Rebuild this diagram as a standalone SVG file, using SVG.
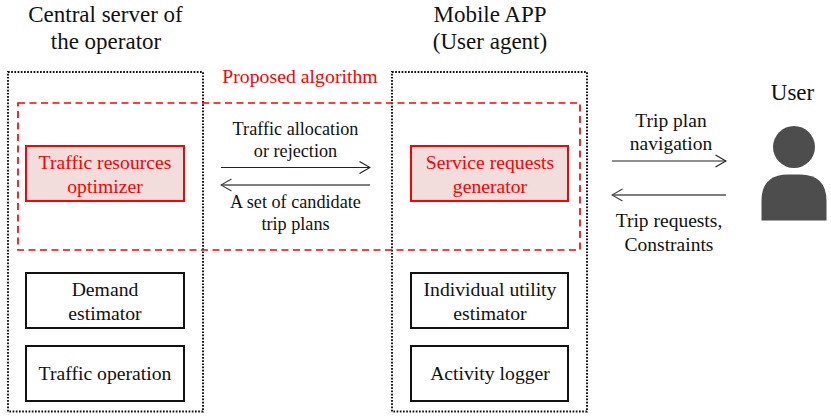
<svg xmlns="http://www.w3.org/2000/svg" width="831" height="417" viewBox="0 0 831 417">
<style>
text{font-family:"Liberation Serif","Times New Roman",serif;text-anchor:middle;fill:#111}
.head{font-size:23px}
.lbl{font-size:18.2px}
.side{font-size:19.5px}
.box{font-size:19.7px}
.red{fill:#f00}
.dot{fill:none;stroke:#111;stroke-width:1.9;stroke-dasharray:1.7 1.5}
.dash{fill:none;stroke:#f00;stroke-width:1.7;stroke-dasharray:7 4.5}
.plain{fill:#fff;stroke:#111;stroke-width:2}
.hot{fill:#f3dcdc;stroke:#f00;stroke-width:2}
.ln{fill:none;stroke:#222;stroke-width:1.2}
.back{fill:none;stroke:#555;stroke-width:1.6}
</style>
<defs>
<marker id="open" viewBox="0 0 12 14" refX="11" refY="7" markerWidth="12" markerHeight="14" markerUnits="userSpaceOnUse" orient="auto">
<path d="M.5 1L11 7L.5 13" fill="none" stroke="#222" stroke-width="1.2"/>
</marker>
<marker id="openBack" viewBox="0 0 12 14" refX="11" refY="7" markerWidth="12" markerHeight="14" markerUnits="userSpaceOnUse" orient="auto">
<path d="M.5 1L11 7L.5 13" fill="none" stroke="#444" stroke-width="1.2"/>
</marker>
</defs>
<g id="server">
<rect class="dot" x="8" y="72" width="195" height="339.500"/>
<text class="head" x="105.500" y="22">Central server of</text>
<text class="head" x="106" y="49">the operator</text>
</g>
<g id="app">
<rect class="dot" x="392" y="72" width="195" height="339.500"/>
<text class="head" x="490" y="22">Mobile APP</text>
<text class="head" x="490" y="49">(User agent)</text>
</g>
<g id="algorithm">
<rect class="dash" x="18" y="103" width="562" height="147"/>
<text class="side red" x="300" y="83" style="font-size:19.8px">Proposed algorithm</text>
</g>
<g id="optimizer">
<rect class="hot" x="26" y="146" width="158" height="55"/>
<text class="box red" x="105" y="169">Traffic resources</text>
<text class="box red" x="105" y="193">optimizer</text>
</g>
<g id="generator">
<rect class="hot" x="411" y="146" width="157" height="55"/>
<text class="box red" x="490" y="169">Service requests</text>
<text class="box red" x="490" y="193">generator</text>
</g>
<g id="demand">
<rect class="plain" x="26" y="273" width="158" height="55"/>
<text class="box" x="105" y="296">Demand</text>
<text class="box" x="105" y="320">estimator</text>
</g>
<g id="operation">
<rect class="plain" x="26" y="346" width="158" height="55"/>
<text class="box" x="105" y="380">Traffic operation</text>
</g>
<g id="utility">
<rect class="plain" x="411" y="273" width="157" height="55"/>
<text class="box" x="490" y="296">Individual utility</text>
<text class="box" x="490" y="320">estimator</text>
</g>
<g id="logger">
<rect class="plain" x="411" y="346" width="157" height="55"/>
<text class="box" x="490" y="380">Activity logger</text>
</g>
<g id="user">
<text class="head" x="792.500" y="100">User</text>
<circle cx="794" cy="147" r="21" fill="#4d4d4d"/>
<path d="M761.500 220.500V201Q761.500 174.500 788 174.500H800Q826.500 174.500 826.500 201V220.500Z" fill="#4d4d4d"/>
</g>
<g id="connectors">
<path class="ln" d="M221 167.500H370" marker-end="url(#open)"/>
<path class="back" d="M370 185H221" marker-end="url(#openBack)"/>
<path class="ln" d="M612 161H726" marker-end="url(#open)"/>
<path class="back" d="M726 195H612" marker-end="url(#openBack)"/>
<text class="lbl" x="295.500" y="135">Traffic allocation</text>
<text class="lbl" x="295.500" y="157">or rejection</text>
<text class="lbl" x="295.500" y="208">A set of candidate</text>
<text class="lbl" x="295.500" y="230">trip plans</text>
<text class="side" x="671" y="127">Trip plan</text>
<text class="side" x="671" y="150">navigation</text>
<text class="side" x="669" y="227">Trip requests,</text>
<text class="side" x="669" y="251">Constraints</text>
</g>
</svg>
